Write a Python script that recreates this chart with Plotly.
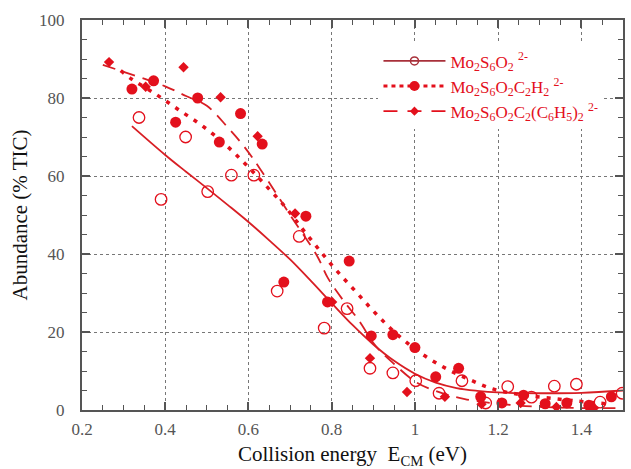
import plotly.graph_objects as go

# ---- data: Mo2S6O2 2- (open circles) ----
x_a = [0.337, 0.39, 0.449, 0.502, 0.559, 0.613, 0.669, 0.722, 0.782, 0.837, 0.892,
       0.947, 1.002, 1.058, 1.113, 1.17, 1.223, 1.28, 1.335, 1.388, 1.445, 1.498]
y_a = [75.0, 54.0, 70.0, 56.0, 60.2, 60.2, 30.5, 44.5, 21.0, 26.0, 10.7,
       9.5, 7.5, 4.3, 7.5, 1.8, 6.0, 3.3, 6.1, 6.6, 2.0, 4.3]

# ---- data: Mo2S6O2C2H2 2- (filled circles) ----
x_b = [0.32, 0.372, 0.425, 0.478, 0.53, 0.581, 0.633, 0.685, 0.738, 0.79, 0.842,
       0.895, 0.947, 1.0, 1.05, 1.105, 1.158, 1.209, 1.261, 1.313, 1.365, 1.418, 1.472]
y_b = [82.3, 84.4, 73.8, 80.0, 68.7, 76.0, 68.2, 32.8, 49.7, 27.7, 38.2,
       19.0, 19.3, 16.0, 8.5, 10.7, 3.4, 1.8, 3.8, 1.6, 1.8, 1.2, 3.4]

# ---- data: Mo2S6O2C2(C6H5)2 2- (diamonds) ----
x_c = [0.265, 0.353, 0.444, 0.533, 0.622, 0.712, 0.801, 0.892, 0.981, 1.072,
       1.16, 1.254, 1.34, 1.43]
y_c = [89.2, 82.9, 87.9, 80.2, 70.2, 50.4, 27.7, 13.3, 4.6, 3.4,
       1.5, 1.8, 0.8, 0.5]

# ---- fitted curves ----
fx_a = [0.32, 0.4, 0.45, 0.5, 0.55, 0.6, 0.65, 0.7, 0.75, 0.8, 0.85, 0.9, 0.95,
        1.0, 1.05, 1.1, 1.15, 1.2, 1.3, 1.4, 1.5]
fy_a = [72.8, 65.4, 61.1, 56.9, 52.6, 48.2, 43.5, 38.6, 33.1, 27.4, 21.8, 16.8, 12.6,
        9.3, 7.0, 5.6, 4.9, 4.5, 4.3, 4.4, 5.0]

fx_b = [0.293, 0.32, 0.377, 0.432, 0.49, 0.545, 0.595, 0.643, 0.689, 0.73, 0.772,
        0.813, 0.861, 0.907, 0.959, 1.014, 1.072, 1.129, 1.187, 1.25, 1.304, 1.39, 1.47]
fy_b = [87.0, 84.8, 81.0, 77.0, 72.8, 68.0, 62.8, 57.4, 52.0, 46.4, 40.8,
        35.6, 30.0, 24.6, 19.2, 14.6, 10.8, 7.9, 5.4, 4.0, 3.3, 2.3, 1.5]

fx_c = [0.25, 0.32, 0.4, 0.45, 0.5, 0.55, 0.59, 0.63, 0.7, 0.765, 0.79, 0.825,
        0.865, 0.905, 0.95, 1.005, 1.06, 1.12, 1.2, 1.3, 1.4, 1.5]
fy_c = [88.5, 86.0, 83.0, 80.5, 78.0, 72.5, 67.5, 61.5, 50.0, 39.5, 34.0, 28.5,
        23.0, 16.5, 11.8, 7.0, 4.5, 2.8, 1.6, 0.8, 0.5, 0.5]

names = ["Mo<sub>2</sub>S<sub>6</sub>O<sub>2</sub> <sup>2-</sup>",
         "Mo<sub>2</sub>S<sub>6</sub>O<sub>2</sub>C<sub>2</sub>H<sub>2</sub> <sup>2-</sup>",
         "Mo<sub>2</sub>S<sub>6</sub>O<sub>2</sub>C<sub>2</sub>(C<sub>6</sub>H<sub>5</sub>)<sub>2</sub> <sup>2-</sup>"]

RED = "#e3101c"
LRED = "#d81e24"
SERIF = "Liberation Serif"

dash_b = "4px,7px"
dash_c = "13px,8px"

fig = go.Figure()

# fitted lines
fig.add_trace(go.Scatter(x=fx_a, y=fy_a, mode="lines", line=dict(color=LRED, width=1.8, shape="spline"),
                         showlegend=False))
fig.add_trace(go.Scatter(x=fx_b, y=fy_b, mode="lines", line=dict(color=RED, width=3.5, dash=dash_b, shape="spline"),
                         showlegend=False))
fig.add_trace(go.Scatter(x=fx_c, y=fy_c, mode="lines", line=dict(color=LRED, width=1.8, dash=dash_c, shape="spline"),
                         showlegend=False))

# data points
fig.add_trace(go.Scatter(x=x_a, y=y_a, mode="markers", showlegend=False,
                         marker=dict(symbol="circle-open", size=11.5, color=RED, line=dict(width=1.3, color=RED))))
fig.add_trace(go.Scatter(x=x_b, y=y_b, mode="markers", showlegend=False,
                         marker=dict(symbol="circle", size=11, color=RED, line=dict(width=0))))
fig.add_trace(go.Scatter(x=x_c, y=y_c, mode="markers", showlegend=False,
                         marker=dict(symbol="diamond", size=8, color=RED, line=dict(width=0))))

# legend entries
fig.add_trace(go.Scatter(x=[None], y=[None], mode="lines+markers", name=names[0],
                         line=dict(color="#a8303a", width=1.8),
                         marker=dict(symbol="circle-open", size=8, color="#a8303a", line=dict(width=1.5))))
fig.add_trace(go.Scatter(x=[None], y=[None], mode="lines+markers", name=names[1],
                         line=dict(color=RED, width=3, dash="4px,4px"),
                         marker=dict(symbol="circle", size=10, color=RED)))
fig.add_trace(go.Scatter(x=[None], y=[None], mode="lines+markers", name=names[2],
                         line=dict(color=RED, width=1.8, dash="14px,10px"),
                         marker=dict(symbol="diamond", size=7, color=RED)))

axis_common = dict(
    showline=True, linecolor="#555555", linewidth=2, mirror="ticks",
    ticks="inside", ticklen=8, tickwidth=1.5, tickcolor="#555555",
    showgrid=True, gridcolor="#777777", gridwidth=1, griddash="dot",
    zeroline=False,
    tickfont=dict(family=SERIF, size=17, color="#555555"),
)

fig.update_xaxes(range=[0.2, 1.5], dtick=0.2, tick0=0.2,
                 minor=dict(ticks="inside", ticklen=5, tickwidth=1.2, tickcolor="#555555", dtick=0.05, showgrid=False),
                 title=dict(text="Collision energy  E<sub>CM</sub> (eV)", font=dict(family=SERIF, size=21, color="#111111"),
                            standoff=8),
                 ticklabelstandoff=3,
                 **axis_common)
fig.update_yaxes(range=[0, 100], dtick=20,
                 minor=dict(ticks="inside", ticklen=5, tickwidth=1.2, tickcolor="#555555", dtick=5, showgrid=False),
                 title=dict(text="Abundance (% TIC)", font=dict(family=SERIF, size=21, color="#111111"),
                            standoff=6),
                 ticklabelstandoff=12,
                 **axis_common)

fig.update_layout(
    width=631, height=469,
    margin=dict(l=82, r=6, t=20, b=59),
    plot_bgcolor="white", paper_bgcolor="white",
    legend=dict(x=0.548, y=0.94, xanchor="left", yanchor="top",
                bgcolor="white", borderwidth=0, itemwidth=62,
                font=dict(family=SERIF, size=17, color=RED),
                tracegroupgap=0),
)

fig.write_html("out.html")
